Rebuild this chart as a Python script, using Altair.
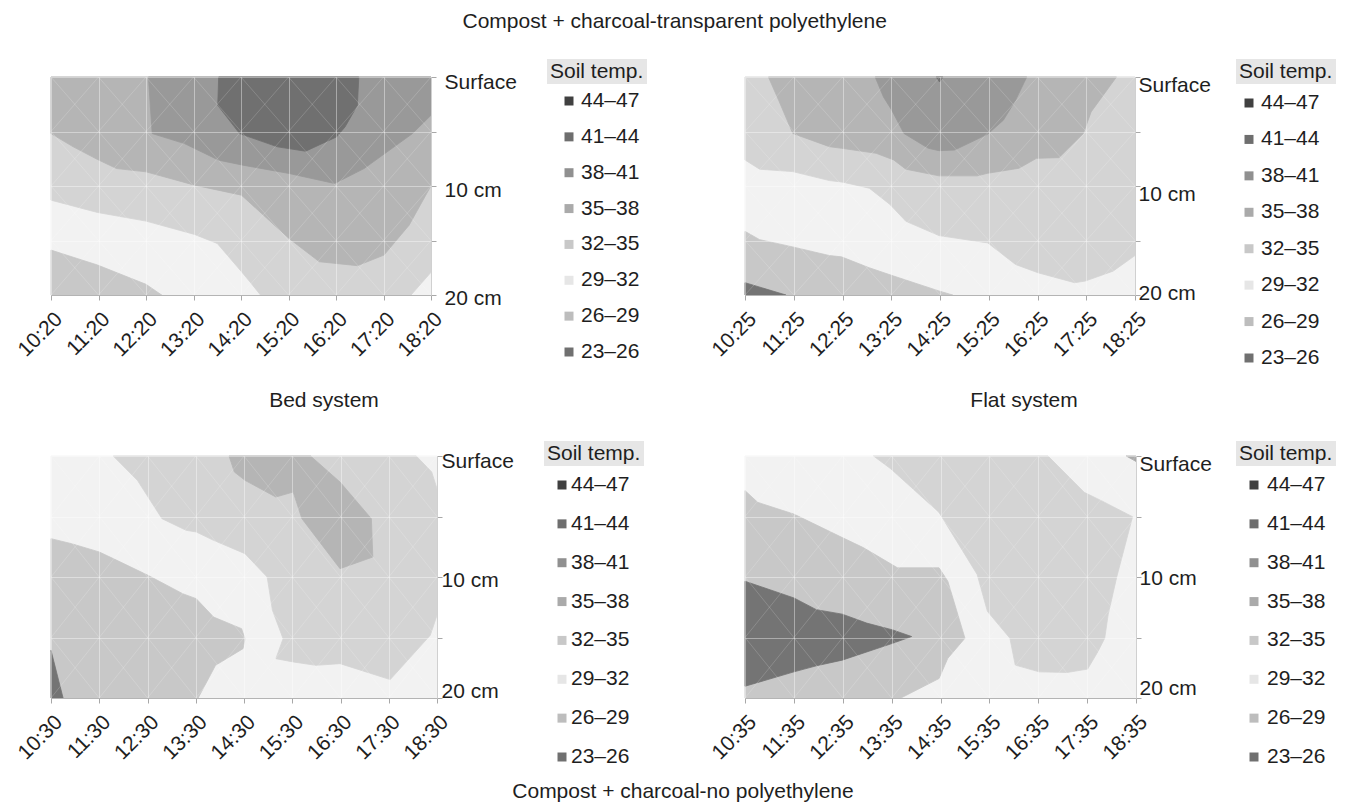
import altair as alt
import pandas as pd

FONT = "Liberation Sans"
TEXT_COLOR = "#1e1e1e"
FS = 21
TFS = 21

# ---------------- legend bands ----------------
LEGEND_TITLE = "Soil temp."
BAND_LABELS = ["44–47", "41–44", "38–41", "35–38", "32–35", "29–32", "26–29", "23–26"]
LEGEND_COLORS = ["#404040", "#6e6e6e", "#909090", "#aaaaaa", "#c8c8c8", "#e6e6e6", "#bdbdbd", "#707070"]
FILL_COLORS = {
    "41–44": "#707070", "38–41": "#999999", "35–38": "#b5b5b5", "32–35": "#d4d4d4",
    "29–32": "#f2f2f2", "26–29": "#c8c8c8", "23–26": "#747474", "corner": "#ababab",
}

# ---------------- axes ----------------
TL_TIMES = ["10:20", "11:20", "12:20", "13:20", "14:20", "15:20", "16:20", "17:20", "18:20"]
TR_TIMES = ["10:25", "11:25", "12:25", "13:25", "14:25", "15:25", "16:25", "17:25", "18:25"]
BL_TIMES = ["10:30", "11:30", "12:30", "13:30", "14:30", "15:30", "16:30", "17:30", "18:30"]
BR_TIMES = ["10:35", "11:35", "12:35", "13:35", "14:35", "15:35", "16:35", "17:35", "18:35"]
DEPTHS = [0, 5, 10, 15, 20]
DEPTH_NAMES = ["Surface", "", "10 cm", "", "20 cm"]

TITLE_TOP = "Compost + charcoal-transparent polyethylene"
TITLE_BOTTOM = "Compost + charcoal-no polyethylene"
SYS_LEFT = "Bed system"
SYS_RIGHT = "Flat system"

# ---------------- contour regions: (time index, depth cm) ----------------
FULL = [(0, 0), (8, 0), (8, 20), (0, 20)]

# top-left: bed system, transparent polyethylene
TL_26 = [(0, 15.88), (0.98, 17.25), (2.0, 19.02), (2.33, 20), (0, 20)]
TL_32 = [(0, 0), (8, 0), (8, 17.92), (7.58, 20), (4.41, 20), (4.23, 19.02), (4.01, 17.86),
         (3.50, 15.27), (3.02, 14.44), (2.0, 13.22), (0.98, 12.43), (0, 11.30)]
TL_35 = [(0, 0), (8, 0), (8, 9.98), (7.54, 13.59), (7.01, 16.34), (6.45, 17.31), (5.65, 16.95),
         (5.01, 14.81), (4.01, 10.84), (3.02, 9.92), (2.0, 8.70), (1.38, 8.40), (0.98, 7.57),
         (0.47, 6.41), (0, 5.19)]
TL_38 = [(2.05, 0), (8, 0), (8, 3.51), (7.61, 5.19), (6.59, 8.40), (5.97, 9.77), (5.01, 8.85),
         (4.04, 8.09), (3.53, 7.63), (2.81, 6.11), (2.13, 5.19)]
TL_41 = [(3.53, 0), (6.48, 0), (6.45, 2.6), (6.19, 4.58), (6.01, 5.5), (5.36, 6.81), (4.77, 6.41),
         (3.97, 5.19), (3.51, 2.6)]

# top-right: flat system, transparent polyethylene
TR_26 = [(0, 14.16), (0.3, 14.92), (0.98, 15.59), (1.73, 16.38), (1.98, 16.5), (2.55, 17.5),
         (3.05, 18.26), (3.98, 19.63), (4.26, 20), (0, 20)]
TR_23 = [(0, 18.87), (0.84, 20), (0, 20)]
TR_32 = [(0, 0), (8, 0), (8, 16.38), (7.55, 17.81), (6.98, 18.72), (6.76, 18.87), (6.01, 17.96),
         (5.55, 17.2), (4.98, 15.22), (3.98, 14.55), (3.30, 13.24), (2.98, 11.72), (2.55, 10.2),
         (2.01, 9.65), (1.73, 9.50), (0.98, 8.68), (0.3, 8.46), (0, 7.61)]
TR_35 = [(0.48, 0), (7.62, 0), (7.1, 3.2), (6.94, 5.18), (6.44, 7.40), (5.98, 7.46), (5.62, 8.37),
         (4.98, 8.83), (4.76, 9.07), (3.98, 9.07), (3.30, 8.46), (3.05, 7.61), (2.69, 7.0),
         (1.98, 6.54), (1.73, 6.39), (0.98, 5.18), (0.69, 2.13)]
TR_38 = [(2.67, 0), (5.78, 0), (5.55, 2.13), (5.30, 3.96), (4.98, 5.24), (4.30, 6.70), (3.98, 6.76),
         (3.76, 6.54), (3.26, 5.18), (3.01, 3.04), (2.84, 1.83)]
TR_41 = [(3.92, 0), (4.06, 0), (3.99, 0.46)]

# bottom-left: bed system, no polyethylene
BL_32 = [(1.29, 0), (1.79, 2.01), (2.30, 5.18), (2.80, 6.14), (3.01, 6.28), (3.37, 6.97),
         (4.02, 8.07), (4.48, 10.0), (4.59, 12.75), (4.81, 15.10), (4.66, 16.75), (5.02, 17.02),
         (5.49, 17.30), (5.99, 17.16), (7.03, 18.48), (7.86, 14.82), (8, 13.17), (8, 2.70),
         (7.89, 1.32), (7.57, 0)]
BL_35 = [(3.69, 0), (3.80, 1.32), (4.02, 2.01), (4.66, 3.39), (5.02, 2.98), (5.20, 5.18),
         (5.99, 9.31), (6.67, 8.35), (6.64, 5.18), (5.99, 2.15), (5.38, 0)]
BL_26 = [(0, 6.83), (0.43, 7.25), (1.0, 7.93), (1.29, 8.48), (2.01, 9.86), (2.73, 11.38),
         (3.01, 11.79), (3.37, 13.31), (3.95, 14.27), (4.02, 15.10), (3.98, 15.92), (3.41, 17.30),
         (3.05, 20), (0, 20)]
BL_23 = [(0, 16.06), (0.25, 20), (0, 20)]

# bottom-right: flat system, no polyethylene
BR_32 = [(2.63, 0), (2.98, 1.05), (3.97, 4.66), (4.75, 9.79), (4.96, 12.84), (5.42, 15.06),
         (5.53, 17.28), (6.02, 17.84), (6.59, 17.89), (7.01, 17.61), (7.22, 16.17), (7.36, 15.06),
         (7.43, 13.12), (7.61, 9.93), (7.93, 5.02), (7.29, 3.69), (6.94, 3.0), (6.20, 0)]
BR_26 = [(0, 2.86), (0.26, 3.83), (1.0, 4.80), (1.99, 6.74), (2.42, 7.57), (3.12, 9.24),
         (3.97, 9.24), (4.15, 10.35), (4.50, 15.06), (4.15, 16.72), (3.97, 18.39), (3.19, 20), (0, 20)]
BR_23 = [(0, 10.35), (1.0, 11.73), (1.46, 12.70), (1.99, 13.07), (2.49, 13.81), (3.02, 14.37),
         (3.41, 14.92), (3.02, 15.48), (1.99, 16.87), (1.46, 17.34), (1.0, 17.84), (0, 19.03)]
BR_CORNER = [(7.8, 0), (8, 0), (8, 0.45)]

TL_REGIONS = [("29–32", FULL), ("26–29", TL_26), ("32–35", TL_32), ("35–38", TL_35),
              ("38–41", TL_38), ("41–44", TL_41)]
TR_REGIONS = [("29–32", FULL), ("26–29", TR_26), ("23–26", TR_23), ("32–35", TR_32),
              ("35–38", TR_35), ("38–41", TR_38), ("41–44", TR_41)]
BL_REGIONS = [("29–32", FULL), ("32–35", BL_32), ("35–38", BL_35), ("26–29", BL_26), ("23–26", BL_23)]
BR_REGIONS = [("29–32", FULL), ("32–35", BR_32), ("26–29", BR_26), ("23–26", BR_23), ("corner", BR_CORNER)]


def depth_expr():
    expr = "''"
    for d, n in reversed(list(zip(DEPTHS, DEPTH_NAMES))):
        expr = f"datum.value == {d} ? '{n}' : {expr}"
    return expr


def ttl(text, orient, offset, dx=0):
    return alt.TitleParams(text=text, orient=orient, anchor="middle", frame="group", offset=offset,
                           dx=dx, font=FONT, fontSize=TFS, fontWeight="normal", color=TEXT_COLOR)


def panel(times, regions, w, h, ylabel_pad, offs, title=None):
    n = len(times)
    xs = alt.Scale(domain=[0, n - 1], nice=False, zero=False)
    ys = alt.Scale(domain=[0, 20], reverse=True, nice=False, zero=False)
    time_expr = "[" + ",".join(f"'{t}'" for t in times) + "][datum.value]"
    common = dict(labelFont=FONT, labelFontSize=FS, labelColor=TEXT_COLOR, tickColor="#a8a8a8",
                  tickSize=5, grid=True, gridColor="#ffffff", gridOpacity=0.4, zindex=1,
                  labelOverlap=False, labelFlush=False, title=None)
    xaxis = alt.Axis(values=list(range(n)), labelExpr=time_expr, labelAngle=-45,
                     labelPadding=8, domainColor="#b4b4b4", **common)
    y_offset = {
        "condition": [
            {"test": f"datum.value == {DEPTHS[0]}", "value": offs[0]},
            {"test": f"datum.value == {DEPTHS[-1]}", "value": offs[2]},
        ],
        "value": offs[1],
    }
    yaxis = alt.Axis(orient="right", values=DEPTHS, labelExpr=depth_expr(), labelBaseline="middle",
                     labelOffset=y_offset, labelPadding=ylabel_pad, domainColor="#d0d0d0", **common)
    layers = []
    for band, pts in regions:
        df = pd.DataFrame({"t": [p[0] for p in pts], "d": [p[1] for p in pts],
                           "i": list(range(len(pts)))})
        c = FILL_COLORS[band]
        layers.append(
            alt.Chart(df).mark_line(fill=c, stroke=c, strokeWidth=0.8, interpolate="linear-closed")
            .encode(x=alt.X("t:Q", scale=xs, axis=xaxis),
                    y=alt.Y("d:Q", scale=ys, axis=yaxis),
                    order=alt.Order("i:Q"))
        )
    # faint cell diagonals of the surface mesh (grid structure, both directions)
    segs = []
    for i in range(n - 1):
        for d0, d1 in zip(DEPTHS[:-1], DEPTHS[1:]):
            segs.append({"x0": i, "x1": i + 1, "y0": d0, "y1": d1})
            segs.append({"x0": i, "x1": i + 1, "y0": d1, "y1": d0})
    mesh = alt.Chart(pd.DataFrame(segs)).mark_rule(color="#ffffff", opacity=0.17, strokeWidth=1).encode(
        x=alt.X("x0:Q", scale=xs, axis=xaxis), x2="x1:Q",
        y=alt.Y("y0:Q", scale=ys, axis=yaxis), y2="y1:Q")
    layers.append(mesh)
    props = dict(width=w, height=h, view=alt.ViewBackground(stroke="#b4b4b4", strokeWidth=1))
    if title is not None:
        props["title"] = title
    return alt.layer(*layers).properties(**props)


def legend(w, h, y_first, y_last, box_top, box_bottom, box_x, box_w, sym_x, text_x):
    df = pd.DataFrame({"row": list(range(1, 9)), "label": BAND_LABELS, "color": LEGEND_COLORS})
    ys = alt.Scale(domain=[1, 8], range=[y_first, y_last])
    one = pd.DataFrame({"txt": [LEGEND_TITLE]})
    box = alt.Chart(one).mark_rect(color="#e6e6e6").encode(
        x=alt.value(box_x), x2=alt.value(box_x + box_w), y=alt.value(box_top), y2=alt.value(box_bottom))
    title = alt.Chart(one).mark_text(align="left", baseline="middle", font=FONT, fontSize=FS,
                                     color=TEXT_COLOR).encode(
        x=alt.value(box_x + 3), y=alt.value((box_top + box_bottom) / 2), text="txt:N")
    sym = alt.Chart(df).mark_square(size=81, opacity=1, filled=True).encode(
        x=alt.value(box_x + sym_x), y=alt.Y("row:Q", scale=ys, axis=None),
        color=alt.Color("color:N", scale=None, legend=None))
    txt = alt.Chart(df).mark_text(align="left", baseline="middle", font=FONT, fontSize=FS,
                                  color=TEXT_COLOR).encode(
        x=alt.value(box_x + text_x), y=alt.Y("row:Q", scale=ys, axis=None), text="label:N")
    return alt.layer(box, title, sym, txt).properties(width=w, height=h)


tl = panel(TL_TIMES, TL_REGIONS, 380, 218, 8, (5, 4, 3), ttl(SYS_LEFT, "bottom", 30, 83))
tr = panel(TR_TIMES, TR_REGIONS, 390, 218, -2, (8, 8, -2), ttl(SYS_RIGHT, "bottom", 30, 84))
bl = panel(BL_TIMES, BL_REGIONS, 386, 242, -1, (5, 3, -7), ttl(TITLE_BOTTOM, "bottom", 18, 439))
br = panel(BR_TIMES, BR_REGIONS, 391, 242, -2, (8, 1, -10))

tl_leg = legend(88, 218, 24, 275, -18, 7, 0, 100, 22, 34)
tr_leg = legend(88, 218, 26, 281, -18, 7, -10, 100, 13, 25)
bl_leg = legend(88, 242, 29, 301, -15, 10, -3, 100, 18, 27)
br_leg = legend(88, 242, 29, 301, -15, 10, -10, 100, 18, 31)

chart = (
    alt.concat(tl, tl_leg, tr, tr_leg, bl, bl_leg, br, br_leg, columns=4, bounds="flush",
               spacing={"row": 161, "column": 110},
               title=alt.TitleParams(text=TITLE_TOP, orient="top", anchor="middle", offset=27,
                                     font=FONT, fontSize=TFS, fontWeight="normal", color=TEXT_COLOR))
    .properties(padding={"left": 5, "top": 3, "right": 0, "bottom": 0})
    .configure_view(strokeWidth=0)
)

chart.save("out.html", embed_options={"renderer": "svg", "actions": False})
